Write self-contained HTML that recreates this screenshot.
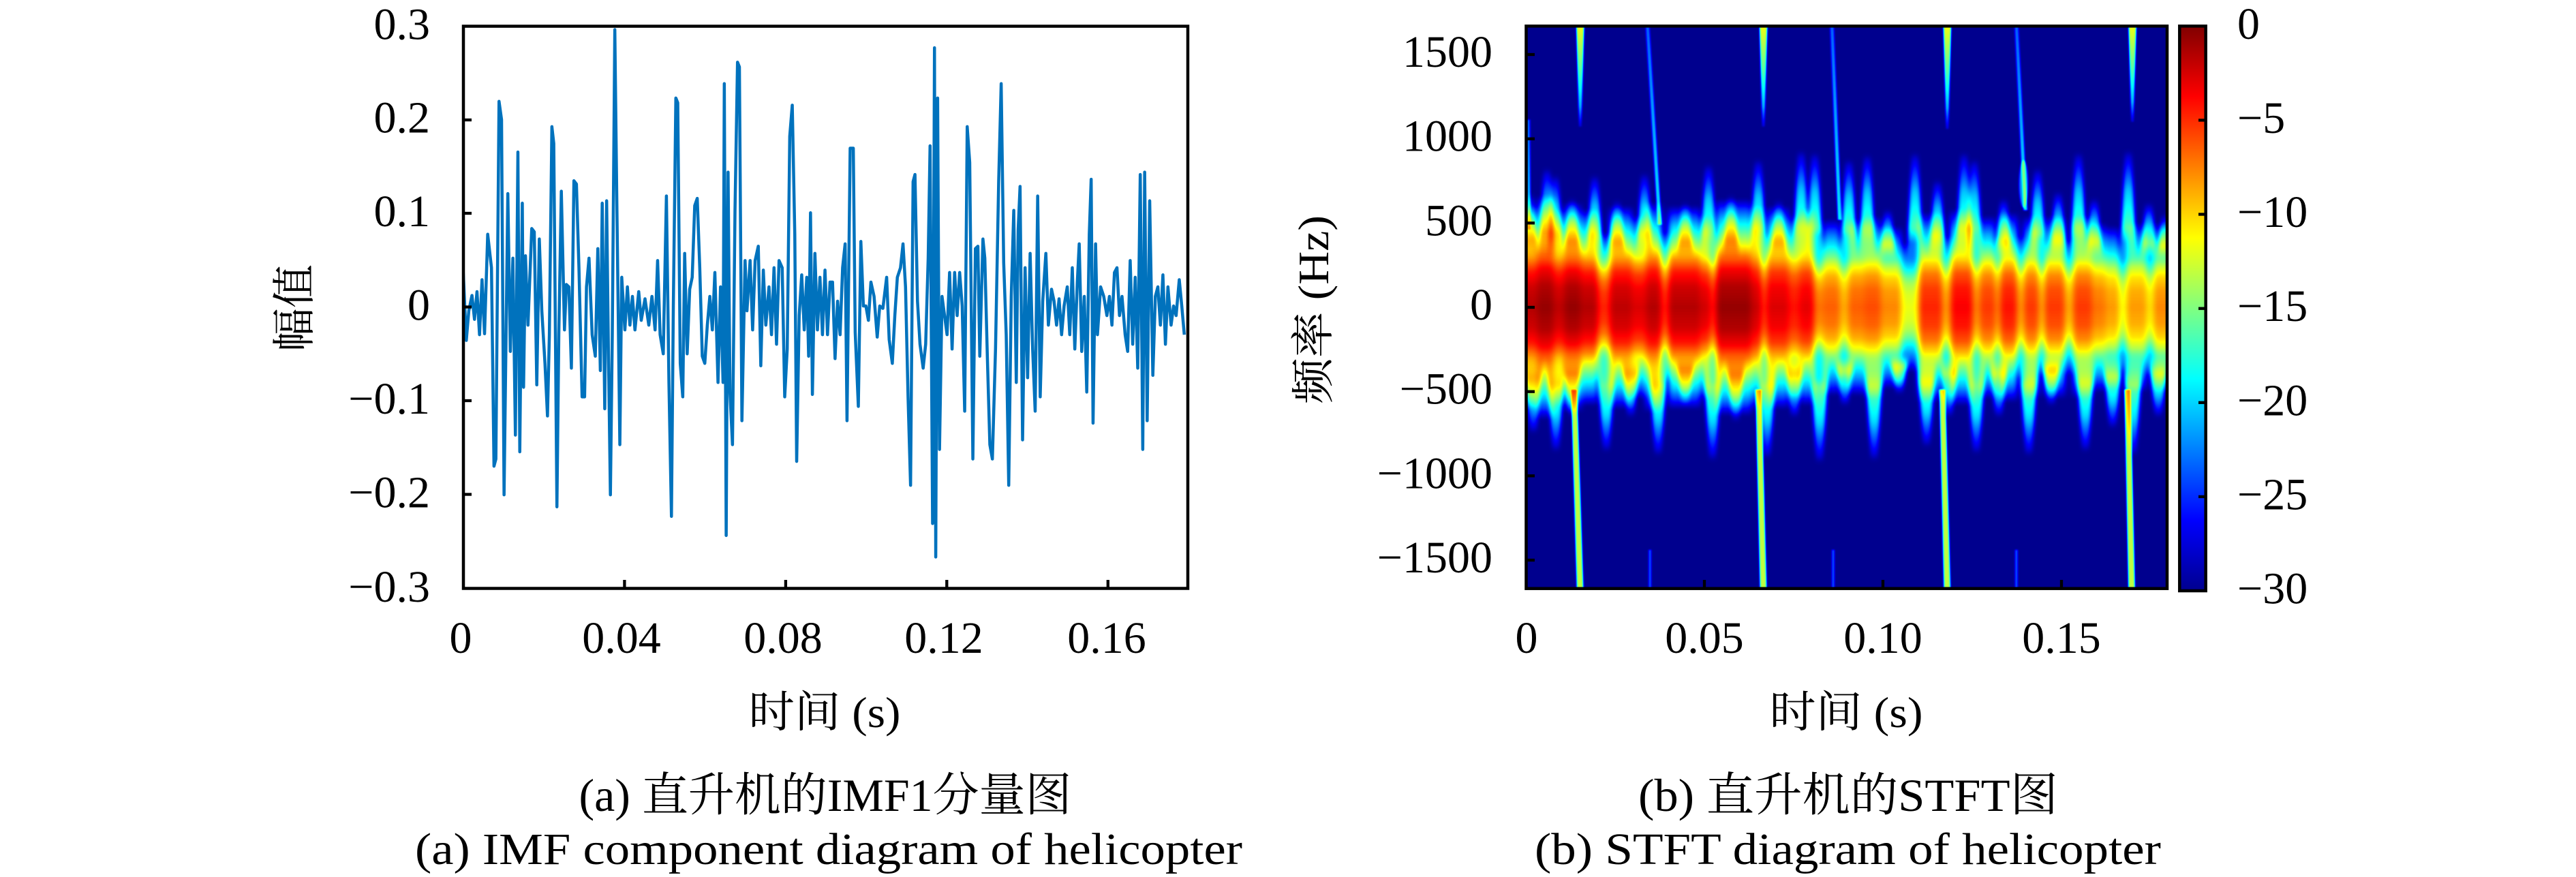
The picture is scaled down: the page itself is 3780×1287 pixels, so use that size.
<!DOCTYPE html>
<html><head><meta charset="utf-8"><style>
html,body{margin:0;padding:0;background:#fff;}
svg{display:block;}
.t{font-family:"Liberation Serif","Noto Serif CJK SC",serif;font-size:66px;fill:#000;}
.c{font-family:"Liberation Serif","Noto Serif CJK SC",serif;fill:#000;}
</style></head><body>
<svg width="3780" height="1287" viewBox="0 0 3780 1287" xmlns="http://www.w3.org/2000/svg">
<defs>
<linearGradient id="gb" x1="0" y1="0" x2="0" y2="1">
<stop offset="0" stop-color="#fff" stop-opacity="0"/>
<stop offset="0.05" stop-color="#fff" stop-opacity="0.18"/>
<stop offset="0.1" stop-color="#fff" stop-opacity="0.33"/>
<stop offset="0.15" stop-color="#fff" stop-opacity="0.45"/>
<stop offset="0.21" stop-color="#fff" stop-opacity="0.6"/>
<stop offset="0.265" stop-color="#fff" stop-opacity="0.76"/>
<stop offset="0.325" stop-color="#fff" stop-opacity="0.88"/>
<stop offset="0.4" stop-color="#fff" stop-opacity="0.95"/>
<stop offset="0.5" stop-color="#fff" stop-opacity="0.98"/>
<stop offset="0.6" stop-color="#fff" stop-opacity="0.95"/>
<stop offset="0.675" stop-color="#fff" stop-opacity="0.88"/>
<stop offset="0.735" stop-color="#fff" stop-opacity="0.76"/>
<stop offset="0.79" stop-color="#fff" stop-opacity="0.6"/>
<stop offset="0.85" stop-color="#fff" stop-opacity="0.45"/>
<stop offset="0.9" stop-color="#fff" stop-opacity="0.33"/>
<stop offset="0.95" stop-color="#fff" stop-opacity="0.18"/>
<stop offset="1" stop-color="#fff" stop-opacity="0"/>
</linearGradient>
<linearGradient id="gu" x1="0" y1="1" x2="0" y2="0">
<stop offset="0" stop-color="#fff" stop-opacity="0"/>
<stop offset="0.3" stop-color="#fff" stop-opacity="0.45"/>
<stop offset="0.65" stop-color="#fff" stop-opacity="0.32"/>
<stop offset="1" stop-color="#fff" stop-opacity="0.06"/>
</linearGradient>
<linearGradient id="gd" x1="0" y1="0" x2="0" y2="1">
<stop offset="0" stop-color="#fff" stop-opacity="0"/>
<stop offset="0.3" stop-color="#fff" stop-opacity="0.48"/>
<stop offset="0.65" stop-color="#fff" stop-opacity="0.34"/>
<stop offset="1" stop-color="#fff" stop-opacity="0.06"/>
</linearGradient>
<linearGradient id="gt" x1="0" y1="0" x2="0" y2="1">
<stop offset="0" stop-color="#fff" stop-opacity="0.62"/>
<stop offset="0.45" stop-color="#fff" stop-opacity="0.46"/>
<stop offset="0.8" stop-color="#fff" stop-opacity="0.3"/>
<stop offset="1" stop-color="#fff" stop-opacity="0.08"/>
</linearGradient>
<linearGradient id="gs" x1="0" y1="0" x2="0" y2="1">
<stop offset="0" stop-color="#fff" stop-opacity="0.22"/>
<stop offset="1" stop-color="#fff" stop-opacity="0.36"/>
</linearGradient>
<linearGradient id="jetbar" x1="0" y1="0" x2="0" y2="1">
<stop offset="0" stop-color="#800000"/>
<stop offset="0.125" stop-color="#ff0000"/>
<stop offset="0.375" stop-color="#ffff00"/>
<stop offset="0.5" stop-color="#80ff80"/>
<stop offset="0.625" stop-color="#00ffff"/>
<stop offset="0.875" stop-color="#0000ff"/>
<stop offset="1" stop-color="#00008f"/>
</linearGradient>
<filter id="fBand" filterUnits="userSpaceOnUse" x="300" y="-100" width="1200" height="1400" color-interpolation-filters="sRGB">
<feGaussianBlur stdDeviation="4.5 3.5"/>
</filter>
<filter id="fSpike" filterUnits="userSpaceOnUse" x="300" y="-100" width="1200" height="1400" color-interpolation-filters="sRGB">
<feGaussianBlur stdDeviation="3 6"/>
</filter>
<filter id="fSmall" filterUnits="userSpaceOnUse" x="300" y="-100" width="1200" height="1400" color-interpolation-filters="sRGB">
<feGaussianBlur stdDeviation="1.5 1.5"/>
</filter>
<filter id="jet" filterUnits="userSpaceOnUse" x="300" y="-100" width="1200" height="1400" color-interpolation-filters="sRGB">
<feComponentTransfer>
<feFuncR type="table" tableValues="0 0 0 0 0.5 1 1 1 0.5"/>
<feFuncG type="table" tableValues="0 0 0.5 1 1 1 0.5 0 0"/>
<feFuncB type="table" tableValues="0.56 1 1 1 0.5 0 0 0 0"/>
</feComponentTransfer>
</filter>
</defs>

<rect width="3780" height="1287" fill="#fff"/>

<!-- LEFT PLOT -->
<svg x="680" y="38.5" width="1063" height="825" viewBox="357.4 54.9 1151.2 1175.8" preserveAspectRatio="none">
<polyline fill="none" stroke="#0072BD" stroke-width="4.5" vector-effect="non-scaling-stroke" stroke-linejoin="round" points="357,565 362,712 366,650 371,618 375,668 379,610 383,700 387,585 391,698 396,490 402,560 406,975 409,960 414,212 418,250 422,1035 428,405 432,735 436,540 440,910 444,318 447,945 451,425 453,810 456,535 460,680 466,478 470,485 474,805 478,500 482,650 487,760 491,870 494,700 498,265 501,300 506,1060 509,700 513,400 518,690 521,595 525,600 529,770 533,378 537,385 541,560 546,830 550,830 553,600 557,540 562,700 567,745 571,520 575,775 578,425 582,855 585,420 588,750 591,1035 594,700 598,62 601,400 606,930 609,580 614,690 618,600 622,680 626,620 630,690 636,610 640,670 646,625 652,680 657,620 662,690 666,545 670,700 675,740 680,410 684,800 688,1080 691,640 695,205 698,215 702,760 706,830 709,530 713,740 717,605 721,580 725,430 729,415 733,560 737,745 741,760 745,680 749,620 753,690 757,570 762,800 766,600 770,800 772,175 775,1120 778,360 781,820 785,930 789,440 793,130 796,140 800,880 805,545 808,650 813,545 817,690 821,545 826,515 830,765 834,565 838,680 843,600 847,700 851,560 855,720 859,545 864,560 868,830 872,730 876,285 880,220 884,490 887,965 891,660 895,575 899,690 903,580 906,745 909,445 912,825 916,530 920,690 924,580 928,700 932,565 936,700 940,590 944,590 948,750 952,630 956,700 960,560 964,510 967,880 972,310 977,310 980,695 985,850 989,505 993,640 997,640 1001,670 1005,590 1010,620 1015,705 1019,640 1024,645 1030,580 1034,710 1039,760 1043,660 1047,580 1052,560 1056,510 1060,600 1064,830 1068,1015 1072,380 1075,365 1079,630 1083,720 1088,770 1092,720 1096,540 1099,305 1103,1095 1106,100 1108,1165 1111,205 1114,940 1118,620 1122,660 1126,700 1130,570 1134,730 1138,570 1142,660 1146,570 1150,640 1154,860 1158,265 1162,340 1167,960 1171,520 1175,515 1178,745 1183,500 1186,540 1190,745 1194,930 1198,960 1203,730 1208,380 1212,175 1216,550 1220,700 1224,1015 1228,620 1232,440 1236,800 1239,480 1242,390 1246,920 1250,560 1254,790 1258,530 1262,730 1266,860 1270,410 1274,830 1278,630 1283,530 1287,680 1292,605 1296,630 1300,680 1304,625 1308,700 1312,640 1317,600 1321,700 1325,560 1329,730 1333,590 1336,510 1340,735 1344,620 1348,820 1352,490 1355,375 1358,885 1362,510 1365,700 1370,600 1375,620 1380,660 1384,620 1388,680 1392,570 1396,560 1400,660 1404,620 1409,700 1413,735 1417,545 1421,720 1425,580 1429,770 1433,365 1437,940 1440,360 1444,880 1448,420 1453,785 1457,620 1461,600 1465,680 1469,575 1473,720 1477,600 1482,680 1486,640 1490,660 1495,585 1499,640 1503,700"/>
</svg>
<rect x="680" y="38.5" width="1063" height="825" fill="none" stroke="#000" stroke-width="4.5"/>
<g stroke="#000" stroke-width="4.3">
<line x1="680" y1="176" x2="692" y2="176"/>
<line x1="680" y1="313" x2="692" y2="313"/>
<line x1="680" y1="450.5" x2="692" y2="450.5"/>
<line x1="680" y1="588" x2="692" y2="588"/>
<line x1="680" y1="725.5" x2="692" y2="725.5"/>
<line x1="916.4" y1="863" x2="916.4" y2="851"/>
<line x1="1152.9" y1="863" x2="1152.9" y2="851"/>
<line x1="1389.3" y1="863" x2="1389.3" y2="851"/>
<line x1="1625.8" y1="863" x2="1625.8" y2="851"/>
</g>
<g class="t" text-anchor="end">
<text x="631" y="57.5">0.3</text>
<text x="631" y="194.5">0.2</text>
<text x="631" y="332">0.1</text>
<text x="631" y="469.5">0</text>
<text x="631" y="607">−0.1</text>
<text x="631" y="744.5">−0.2</text>
<text x="631" y="883">−0.3</text>
</g>
<g class="t" text-anchor="middle">
<text x="676" y="958">0</text>
<text x="912" y="958">0.04</text>
<text x="1149" y="958">0.08</text>
<text x="1385" y="958">0.12</text>
<text x="1624" y="958">0.16</text>
</g>
<text class="c" x="1210" y="1067" font-size="64" text-anchor="middle" textLength="223" lengthAdjust="spacingAndGlyphs">时间 (s)</text>
<text class="c" font-size="64" text-anchor="middle" transform="translate(454,452) rotate(-90)">幅值</text>

<!-- RIGHT PLOT -->
<svg x="2239.5" y="38.3" width="940.5" height="825.4" viewBox="407.1 54.6 983.1 1176.6" preserveAspectRatio="none">
<g filter="url(#jet)">
<rect x="300" y="-100" width="1200" height="1400" fill="#000"/>
<g filter="url(#fSpike)">
<g transform="matrix(1.0453 0 0 1.4255 -1933.8 0)">
<g fill="url(#gu)">
<polygon points="2233,380 2257,380 2250,288 2240,288"/>
<polygon points="2258,380 2282,380 2275,251 2265,251"/>
<polygon points="2270,380 2294,380 2287,261 2277,261"/>
<polygon points="2295,380 2319,380 2312,295 2302,295"/>
<polygon points="2328,380 2352,380 2345,261 2335,261"/>
<polygon points="2361,380 2385,380 2378,298 2368,298"/>
<polygon points="2401,380 2425,380 2418,258 2408,258"/>
<polygon points="2461,380 2485,380 2478,301 2468,301"/>
<polygon points="2495,380 2519,380 2512,245 2502,245"/>
<polygon points="2528,380 2552,380 2545,291 2535,291"/>
<polygon points="2568,380 2592,380 2585,238 2575,238"/>
<polygon points="2598,380 2622,380 2615,298 2605,298"/>
<polygon points="2631,380 2655,380 2648,225 2638,225"/>
<polygon points="2651,380 2675,380 2668,228 2658,228"/>
<polygon points="2701,380 2725,380 2718,238 2708,238"/>
<polygon points="2728,380 2752,380 2745,231 2735,231"/>
<polygon points="2758,380 2782,380 2775,311 2765,311"/>
<polygon points="2798,380 2822,380 2815,228 2805,228"/>
<polygon points="2831,380 2855,380 2848,268 2838,268"/>
<polygon points="2870,380 2894,380 2887,228 2877,228"/>
<polygon points="2885,380 2909,380 2902,238 2892,238"/>
<polygon points="2928,380 2952,380 2945,295 2935,295"/>
<polygon points="2978,380 3002,380 2995,251 2985,251"/>
<polygon points="3008,380 3032,380 3025,285 3015,285"/>
<polygon points="3038,380 3062,380 3055,228 3045,228"/>
<polygon points="3061,380 3085,380 3078,295 3068,295"/>
<polygon points="3111,380 3135,380 3128,225 3118,225"/>
<polygon points="3141,380 3165,380 3158,301 3148,301"/>
<polygon points="3165,380 3189,380 3182,318 3172,318"/>
</g>
<g fill="url(#gd)">
<polygon points="2236,522 2264,522 2255,632 2245,632"/>
<polygon points="2269,522 2297,522 2288,659 2278,659"/>
<polygon points="2293,522 2321,522 2312,609 2302,609"/>
<polygon points="2343,522 2371,522 2362,659 2352,659"/>
<polygon points="2379,522 2407,522 2398,609 2388,609"/>
<polygon points="2419,522 2447,522 2438,665 2428,665"/>
<polygon points="2459,522 2487,522 2478,592 2468,592"/>
<polygon points="2499,522 2527,522 2518,672 2508,672"/>
<polygon points="2533,522 2561,522 2552,615 2542,615"/>
<polygon points="2579,522 2607,522 2598,669 2588,669"/>
<polygon points="2619,522 2647,522 2638,609 2628,609"/>
<polygon points="2656,522 2684,522 2675,675 2665,675"/>
<polygon points="2693,522 2721,522 2712,592 2702,592"/>
<polygon points="2736,522 2764,522 2755,672 2745,672"/>
<polygon points="2773,522 2801,522 2792,575 2782,575"/>
<polygon points="2813,522 2841,522 2832,652 2822,652"/>
<polygon points="2846,522 2874,522 2865,609 2855,609"/>
<polygon points="2886,522 2914,522 2905,662 2895,662"/>
<polygon points="2919,522 2947,522 2938,609 2928,609"/>
<polygon points="2963,522 2991,522 2982,665 2972,665"/>
<polygon points="2996,522 3024,522 3015,592 3005,592"/>
<polygon points="3046,522 3074,522 3065,659 3055,659"/>
<polygon points="3086,522 3114,522 3105,625 3095,625"/>
<polygon points="3116,522 3144,522 3135,665 3125,665"/>
<polygon points="3153,522 3181,522 3172,609 3162,609"/>
</g>
</g>
</g>
<g filter="url(#fBand)">
<g transform="matrix(1.0453 0 0 1.4255 -1933.8 0)" fill="url(#gb)">
<rect x="2200" y="301" width="55" height="300" opacity="0.97"/>
<rect x="2255" y="286" width="25" height="330" opacity="1"/>
<rect x="2280" y="306" width="15" height="290" opacity="0.96"/>
<rect x="2295" y="296" width="25" height="310" opacity="1"/>
<rect x="2320" y="306" width="25" height="290" opacity="0.97"/>
<rect x="2345" y="341" width="17" height="220" opacity="0.86"/>
<rect x="2362" y="301" width="33" height="300" opacity="0.96"/>
<rect x="2395" y="316" width="20" height="270" opacity="0.93"/>
<rect x="2415" y="296" width="23" height="310" opacity="0.97"/>
<rect x="2438" y="341" width="10" height="220" opacity="0.86"/>
<rect x="2448" y="301" width="47" height="300" opacity="0.97"/>
<rect x="2495" y="316" width="15" height="270" opacity="0.94"/>
<rect x="2510" y="341" width="8" height="220" opacity="0.87"/>
<rect x="2518" y="291" width="52" height="320" opacity="1"/>
<rect x="2570" y="301" width="15" height="300" opacity="0.95"/>
<rect x="2585" y="341" width="7" height="220" opacity="0.84"/>
<rect x="2592" y="301" width="33" height="300" opacity="0.93"/>
<rect x="2625" y="316" width="15" height="270" opacity="0.88"/>
<rect x="2640" y="306" width="22" height="290" opacity="0.92"/>
<rect x="2662" y="346" width="13" height="210" opacity="0.78"/>
<rect x="2675" y="321" width="25" height="260" opacity="0.8"/>
<rect x="2700" y="346" width="12" height="210" opacity="0.72"/>
<rect x="2712" y="321" width="23" height="260" opacity="0.8"/>
<rect x="2735" y="316" width="25" height="270" opacity="0.82"/>
<rect x="2760" y="331" width="30" height="240" opacity="0.76"/>
<rect x="2790" y="356" width="25" height="190" opacity="0.62"/>
<rect x="2815" y="311" width="35" height="280" opacity="0.86"/>
<rect x="2850" y="346" width="12" height="210" opacity="0.74"/>
<rect x="2862" y="306" width="33" height="290" opacity="0.9"/>
<rect x="2895" y="341" width="10" height="220" opacity="0.76"/>
<rect x="2905" y="316" width="23" height="270" opacity="0.84"/>
<rect x="2928" y="346" width="7" height="210" opacity="0.76"/>
<rect x="2935" y="311" width="25" height="280" opacity="0.88"/>
<rect x="2960" y="346" width="10" height="210" opacity="0.74"/>
<rect x="2970" y="316" width="22" height="270" opacity="0.84"/>
<rect x="2992" y="351" width="8" height="200" opacity="0.72"/>
<rect x="3000" y="316" width="30" height="270" opacity="0.84"/>
<rect x="3030" y="351" width="12" height="200" opacity="0.72"/>
<rect x="3042" y="316" width="28" height="270" opacity="0.84"/>
<rect x="3070" y="326" width="20" height="250" opacity="0.78"/>
<rect x="3090" y="331" width="20" height="240" opacity="0.74"/>
<rect x="3110" y="356" width="10" height="190" opacity="0.62"/>
<rect x="3120" y="326" width="30" height="250" opacity="0.74"/>
<rect x="3150" y="351" width="10" height="200" opacity="0.66"/>
<rect x="3160" y="326" width="70" height="250" opacity="0.76"/>
</g>
</g>
<g filter="url(#fSmall)">
<g fill="url(#gt)">
<polygon points="484,50 496,50 492,265 488,265"/>
<polygon points="765,50 777,50 773,265 769,265"/>
<polygon points="1047,50 1059,50 1055,270 1051,270"/>
<polygon points="1331,50 1343,50 1339,255 1335,255"/>
</g>
<g fill="url(#gs)">
<polygon points="590,50 596,50 615,470 609,470"/>
<polygon points="873,50 879,50 891,460 885,460"/>
<polygon points="1156,50 1162,50 1176,440 1170,440"/>
<polygon points="408,250 413,250 414,480 409,480"/>
</g>
<ellipse cx="1170" cy="385" rx="7" ry="50" fill="#fff" fill-opacity="0.25"/>
<g fill="#fff" fill-opacity="0.56">
<polygon points="485,1240 495,1240 485,815 476,815"/>
<polygon points="766,1240 776,1240 768,815 759,815"/>
<polygon points="1048,1240 1058,1240 1050,815 1041,815"/>
<polygon points="1331,1240 1341,1240 1334,815 1325,815"/>
</g>
<g fill="#fff" fill-opacity="0.22">
<rect x="595" y="1150" width="4" height="90"/>
<rect x="876" y="1150" width="4" height="90"/>
<rect x="1157" y="1150" width="4" height="90"/>
</g>
</g>
</g>
</svg>
<rect x="2239.5" y="38.3" width="940.5" height="825.4" fill="none" stroke="#000" stroke-width="4.5"/>
<g stroke="#000" stroke-width="4.3">
<line x1="2239.5" y1="80" x2="2252" y2="80"/>
<line x1="2239.5" y1="203.7" x2="2252" y2="203.7"/>
<line x1="2239.5" y1="327.3" x2="2252" y2="327.3"/>
<line x1="2239.5" y1="451" x2="2252" y2="451"/>
<line x1="2239.5" y1="574.7" x2="2252" y2="574.7"/>
<line x1="2239.5" y1="698.3" x2="2252" y2="698.3"/>
<line x1="2239.5" y1="822" x2="2252" y2="822"/>
<line x1="2501" y1="863.7" x2="2501" y2="851"/>
<line x1="2763" y1="863.7" x2="2763" y2="851"/>
<line x1="3025" y1="863.7" x2="3025" y2="851"/>
</g>
<g class="t" text-anchor="end">
<text x="2190" y="98">1500</text>
<text x="2190" y="221.7">1000</text>
<text x="2190" y="345.3">500</text>
<text x="2190" y="469">0</text>
<text x="2190" y="592.7">−500</text>
<text x="2190" y="716.3">−1000</text>
<text x="2190" y="840">−1500</text>
</g>
<g class="t" text-anchor="middle">
<text x="2240" y="958">0</text>
<text x="2501" y="958">0.05</text>
<text x="2763" y="958">0.10</text>
<text x="3025" y="958">0.15</text>
</g>
<text class="c" x="2709" y="1067" font-size="64" text-anchor="middle" textLength="225" lengthAdjust="spacingAndGlyphs">时间 (s)</text>
<text class="c" font-size="64" text-anchor="middle" textLength="277" lengthAdjust="spacingAndGlyphs" transform="translate(1949,454.5) rotate(-90)">频率 (Hz)</text>

<!-- COLORBAR -->
<rect x="3198.3" y="38.3" width="38.4" height="828.7" fill="url(#jetbar)" stroke="#000" stroke-width="4.5"/>
<g stroke="#000" stroke-width="4.3">
<line x1="3236.7" y1="176.4" x2="3226" y2="176.4"/>
<line x1="3236.7" y1="314.5" x2="3226" y2="314.5"/>
<line x1="3236.7" y1="452.7" x2="3226" y2="452.7"/>
<line x1="3236.7" y1="590.8" x2="3226" y2="590.8"/>
<line x1="3236.7" y1="728.9" x2="3226" y2="728.9"/>
</g>
<g class="t" text-anchor="start">
<text x="3283" y="56.8">0</text>
<text x="3283" y="194.9">−5</text>
<text x="3283" y="333">−10</text>
<text x="3283" y="471.2">−15</text>
<text x="3283" y="609.3">−20</text>
<text x="3283" y="747.4">−25</text>
<text x="3283" y="885.5">−30</text>
</g>

<!-- CAPTIONS -->
<text class="c" x="1211" y="1190" font-size="68" text-anchor="middle" textLength="723" lengthAdjust="spacingAndGlyphs">(a) 直升机的IMF1分量图</text>
<text class="c" x="1216" y="1268" font-size="66" text-anchor="middle" textLength="1214" lengthAdjust="spacingAndGlyphs">(a) IMF component diagram of helicopter</text>
<text class="c" x="2712" y="1190" font-size="68" text-anchor="middle" textLength="616" lengthAdjust="spacingAndGlyphs">(b) 直升机的STFT图</text>
<text class="c" x="2711.5" y="1268" font-size="66" text-anchor="middle" textLength="919" lengthAdjust="spacingAndGlyphs">(b) STFT diagram of helicopter</text>
</svg>
</body></html>
